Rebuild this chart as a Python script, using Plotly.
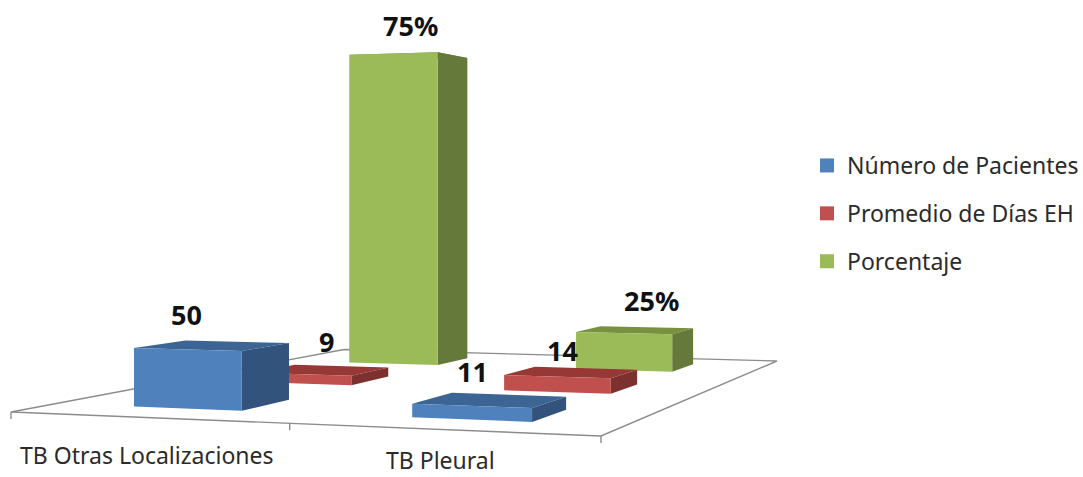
import numpy as np
import plotly.graph_objects as go

categories = ["TB Otras Localizaciones", "TB Pleural"]
series_names = ["Número de Pacientes", "Promedio de Días EH", "Porcentaje"]
numero_pacientes = [50, 11]
promedio_dias = [9, 14]
porcentaje = [75, 25]
series_values = [numero_pacientes, promedio_dias, porcentaje]
label_suffix = ["", "", "%"]

# Face colours per series: front, side, top
front_colors = ["#4F81BD", "#C0504D", "#9BBB59"]
side_colors = ["#32537C", "#7C312F", "#65793A"]
top_colors = ["#3C6593", "#953836", "#78913F"]

# Floor corners on the page (front-left, front-right, back-right, back-left)
floor_corners = [(11, 412), (601, 436), (777, 361), (344, 349.5)]
BAR_FRACTION = 0.4  # gap width of 150 % on both floor axes

# The vertical scale is not linear: counts and days rise proportionally, the
# percentage series follows its own steeper power scale.
scale_factor = [1.2, 1.2, 0.0824]
scale_power = [1.0, 1.0, 1.965]

# Data-label nudges relative to the top centre of each bar (series, category)
label_dx = [[-26, -18], [4, -9], [1, 16]]
label_dy = [[31, 29], [29, 22], [31, 30]]
category_label_drop = [37, 31]
TICK_LENGTH = 7
FONT = "Noto Sans"


def floor_homography(corners):
    """Perspective map from the unit floor square to page coordinates."""
    square = [(0, 0), (1, 0), (1, 1), (0, 1)]
    rows, rhs = [], []
    for (s, t), (x, y) in zip(square, corners):
        rows.append([s, t, 1, 0, 0, 0, -s * x, -t * x])
        rows.append([0, 0, 0, s, t, 1, -s * y, -t * y])
        rhs += [x, y]
    return np.append(np.linalg.solve(np.array(rows, float), np.array(rhs, float)), 1).reshape(3, 3)


H = floor_homography(floor_corners)
N_CATEGORIES = len(categories)
N_SERIES = len(series_names)


def project(u, v, rise=0.0):
    """Map category position u, series position v and a rise to the page."""
    px, py, w = H @ np.array([u / N_CATEGORIES, v / N_SERIES, 1.0])
    return px / w, py / w - rise / w


def rise_of(series, value):
    return scale_factor[series] * value ** scale_power[series]


def polygons_to_xy(polygons):
    xs, ys = [], []
    for poly in polygons:
        for x, y in poly + poly[:1]:
            xs.append(x)
            ys.append(y)
        xs.append(None)
        ys.append(None)
    return xs, ys


fig = go.Figure()

# Floor outline and category ticks
floor = [project(0, 0), project(N_CATEGORIES, 0), project(N_CATEGORIES, N_SERIES), project(0, N_SERIES)]
fx, fy = polygons_to_xy([floor])
fig.add_trace(go.Scatter(x=fx, y=fy, mode="lines", line=dict(color="#8C8C8C", width=1.4),
                         hoverinfo="skip", showlegend=False))
tick_x, tick_y = [], []
for i in range(N_CATEGORIES + 1):
    x0, y0 = project(i, 0)
    tick_x += [x0, x0, None]
    tick_y += [y0, y0 + TICK_LENGTH, None]
fig.add_trace(go.Scatter(x=tick_x, y=tick_y, mode="lines", line=dict(color="#8C8C8C", width=1.4),
                         hoverinfo="skip", showlegend=False))

half = BAR_FRACTION / 2
# Paint back rows first so nearer bars cover farther ones
for j in reversed(range(N_SERIES)):
    front, side, top = [], [], []
    for i, value in enumerate(series_values[j]):
        rise = rise_of(j, value)
        cu, cv = i + 0.5, j + 0.5
        u0, u1, v0, v1 = cu - half, cu + half, cv - half, cv + half
        front.append([project(u0, v0), project(u1, v0), project(u1, v0, rise), project(u0, v0, rise)])
        side.append([project(u1, v0), project(u1, v1), project(u1, v1, rise), project(u1, v0, rise)])
        top.append([project(u0, v0, rise), project(u1, v0, rise), project(u1, v1, rise), project(u0, v1, rise)])
    for polys, color in ((top, top_colors[j]), (side, side_colors[j]), (front, front_colors[j])):
        px, py = polygons_to_xy(polys)
        fig.add_trace(go.Scatter(x=px, y=py, mode="lines", fill="toself", fillcolor=color,
                                 line=dict(width=0, color=color), name=series_names[j],
                                 hoverinfo="skip", showlegend=False))

# Legend entries
for j, name in enumerate(series_names):
    fig.add_trace(go.Scatter(x=[None], y=[None], mode="markers", name=name, legendgroup=name,
                             marker=dict(symbol="square", size=14, color=front_colors[j])))

# Data labels
for j in range(N_SERIES):
    for i, value in enumerate(series_values[j]):
        x, y = project(i + 0.5, j + 0.5, rise_of(j, value))
        fig.add_annotation(x=x, y=y, text=f"{value}{label_suffix[j]}", showarrow=False,
                           xanchor="center", yanchor="middle",
                           xshift=label_dx[j][i], yshift=label_dy[j][i],
                           font=dict(family=FONT, size=27, color="#111111", weight="bold"))

# Category labels
for i, name in enumerate(categories):
    x, y = project(i + 0.5, 0)
    fig.add_annotation(x=x, y=y, text=name, showarrow=False, xanchor="center", yanchor="middle",
                       yshift=-category_label_drop[i],
                       font=dict(family=FONT, size=23, color="#2B2B2B"))

fig.update_layout(
    width=1083, height=477, margin=dict(l=0, r=0, t=0, b=0, autoexpand=False),
    paper_bgcolor="white", plot_bgcolor="white",
    xaxis=dict(range=[0, 1083], visible=False, fixedrange=True),
    yaxis=dict(range=[477, 0], visible=False, fixedrange=True),
    legend=dict(x=807 / 1083, y=1 - 144 / 477, xanchor="left", yanchor="top",
                traceorder="grouped", tracegroupgap=15, itemwidth=30,
                font=dict(family=FONT, size=23, color="#2B2B2B"), bgcolor="rgba(0,0,0,0)"),
)

fig.write_html("out.html")
